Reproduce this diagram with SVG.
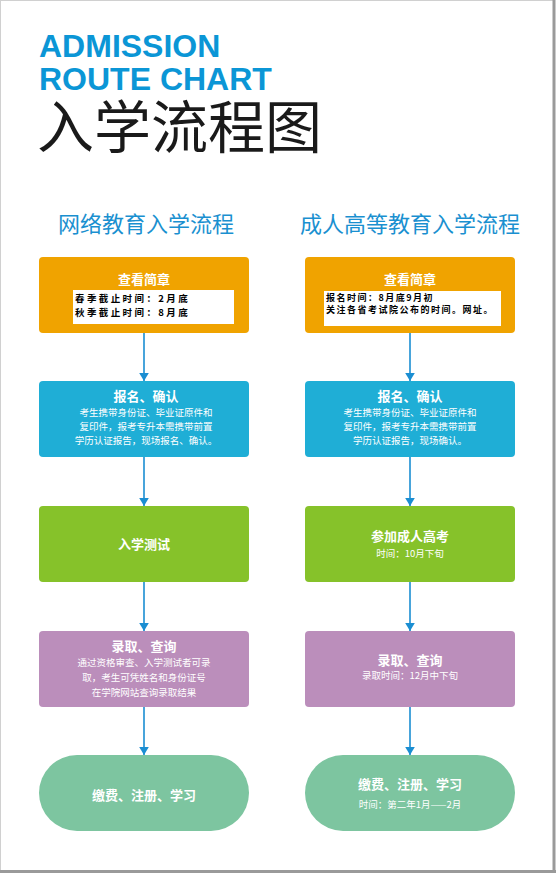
<svg xmlns="http://www.w3.org/2000/svg" width="556" height="873" viewBox="0 0 556 873">
<defs>
<marker id="ah" viewBox="0 0 10 12" refX="10" refY="6" markerWidth="8" markerHeight="10" markerUnits="userSpaceOnUse" orient="auto">
<path d="M0,0 L10,6 L0,12 Z" fill="#1B8ED2"/>
</marker>
<style>
.cjk{font-family:"Noto Sans CJK SC","Liberation Sans",sans-serif}
.en{font-family:"Liberation Sans",Arial,sans-serif;font-weight:bold;font-size:32px;fill:#0B96D6}
.sub{font-size:22px;fill:#1A90D0;text-anchor:middle}
.ttl{font-size:13px;font-weight:bold;fill:#fff;text-anchor:middle}
.txt{font-size:9.5px;fill:#fff;text-anchor:middle}
.note{font-size:9.5px;font-weight:bold;fill:#000;letter-spacing:2.4px}
.note2{font-size:9px;font-weight:bold;fill:#000;letter-spacing:1.5px}
.conn{stroke:#1B8ED2;stroke-width:1.6;fill:none;marker-end:url(#ah)}
.o{fill:#F0A300}.b{fill:#1FAED6}.g{fill:#86C22A}.p{fill:#BB8EBB}.t{fill:#7DC5A0}
</style>
</defs>
<rect x="0" y="0" width="556" height="873" fill="#fff"/>
<rect x="0.5" y="0.5" width="553" height="870" fill="none" stroke="#d0d0d0" stroke-width="1"/>
<line x1="554" y1="0" x2="554" y2="873" stroke="#9a9a9a" stroke-width="3"/>
<line x1="0" y1="871.5" x2="556" y2="871.5" stroke="#9a9a9a" stroke-width="3"/>

<g id="title">
<text class="en" x="39" y="57">ADMISSION</text>
<text class="en" x="39" y="90">ROUTE CHART</text>
<text class="cjk" x="37" y="148" font-size="57" fill="#1a1a1a">入学流程图</text>
</g>
<g id="sub-left"><text class="cjk sub" x="146" y="232">网络教育入学流程</text></g>
<g id="sub-right"><text class="cjk sub" x="410" y="232">成人高等教育入学流程</text></g>

<g id="connectors">
<line class="conn" x1="144" y1="333" x2="144" y2="381"/>
<line class="conn" x1="144" y1="457" x2="144" y2="506"/>
<line class="conn" x1="144" y1="582" x2="144" y2="631"/>
<line class="conn" x1="144" y1="707" x2="144" y2="755"/>
<line class="conn" x1="410" y1="333" x2="410" y2="381"/>
<line class="conn" x1="410" y1="457" x2="410" y2="506"/>
<line class="conn" x1="410" y1="582" x2="410" y2="631"/>
<line class="conn" x1="410" y1="707" x2="410" y2="755"/>
</g>

<g id="L1">
<rect class="o" x="39" y="257" width="210" height="76" rx="4"/>
<text class="cjk ttl" x="144" y="284">查看简章</text>
<rect x="73" y="290" width="161" height="34" fill="#fff"/>
<text class="cjk note" x="75" y="302">春季截止时间：2月底</text>
<text class="cjk note" x="75" y="316">秋季截止时间：8月底</text>
</g>
<g id="L2">
<rect class="b" x="39" y="381" width="210" height="76" rx="4"/>
<text class="cjk ttl" x="146" y="401">报名、确认</text>
<text class="cjk txt" x="146" y="416">考生携带身份证、毕业证原件和</text>
<text class="cjk txt" x="146" y="430">复印件，报考专升本需携带前置</text>
<text class="cjk txt" x="146" y="444">学历认证报告，现场报名、确认。</text>
</g>
<g id="L3">
<rect class="g" x="39" y="506" width="210" height="76" rx="4"/>
<text class="cjk ttl" x="144" y="549">入学测试</text>
</g>
<g id="L4">
<rect class="p" x="39" y="631" width="210" height="76" rx="4"/>
<text class="cjk ttl" x="144" y="651">录取、查询</text>
<text class="cjk txt" x="144" y="666">通过资格审查、入学测试者可录</text>
<text class="cjk txt" x="144" y="681">取，考生可凭姓名和身份证号</text>
<text class="cjk txt" x="144" y="696">在学院网站查询录取结果</text>
</g>
<g id="L5">
<rect class="t" x="39" y="755" width="210" height="76" rx="38"/>
<text class="cjk ttl" x="144" y="800">缴费、注册、学习</text>
</g>

<g id="R1">
<rect class="o" x="305" y="257" width="210" height="76" rx="4"/>
<text class="cjk ttl" x="410" y="284">查看简章</text>
<rect x="324" y="291" width="177" height="35" fill="#fff"/>
<text class="cjk note2" x="326" y="300.5">报名时间：8月底9月初</text>
<text class="cjk note2" x="326" y="312.5">关注各省考试院公布的时间。网址。</text>
</g>
<g id="R2">
<rect class="b" x="305" y="381" width="210" height="76" rx="4"/>
<text class="cjk ttl" x="410" y="401">报名、确认</text>
<text class="cjk txt" x="410" y="416">考生携带身份证、毕业证原件和</text>
<text class="cjk txt" x="410" y="430">复印件，报考专升本需携带前置</text>
<text class="cjk txt" x="410" y="444">学历认证报告，现场确认。</text>
</g>
<g id="R3">
<rect class="g" x="305" y="506" width="210" height="76" rx="4"/>
<text class="cjk ttl" x="410" y="541">参加成人高考</text>
<text class="cjk txt" x="410" y="557">时间：10月下旬</text>
</g>
<g id="R4">
<rect class="p" x="305" y="631" width="210" height="76" rx="4"/>
<text class="cjk ttl" x="410" y="665">录取、查询</text>
<text class="cjk txt" x="410" y="679">录取时间：12月中下旬</text>
</g>
<g id="R5">
<rect class="t" x="305" y="755" width="210" height="76" rx="38"/>
<text class="cjk ttl" x="410" y="789">缴费、注册、学习</text>
<text class="cjk txt" x="410" y="808">时间：第二年1月——2月</text>
</g>
</svg>
